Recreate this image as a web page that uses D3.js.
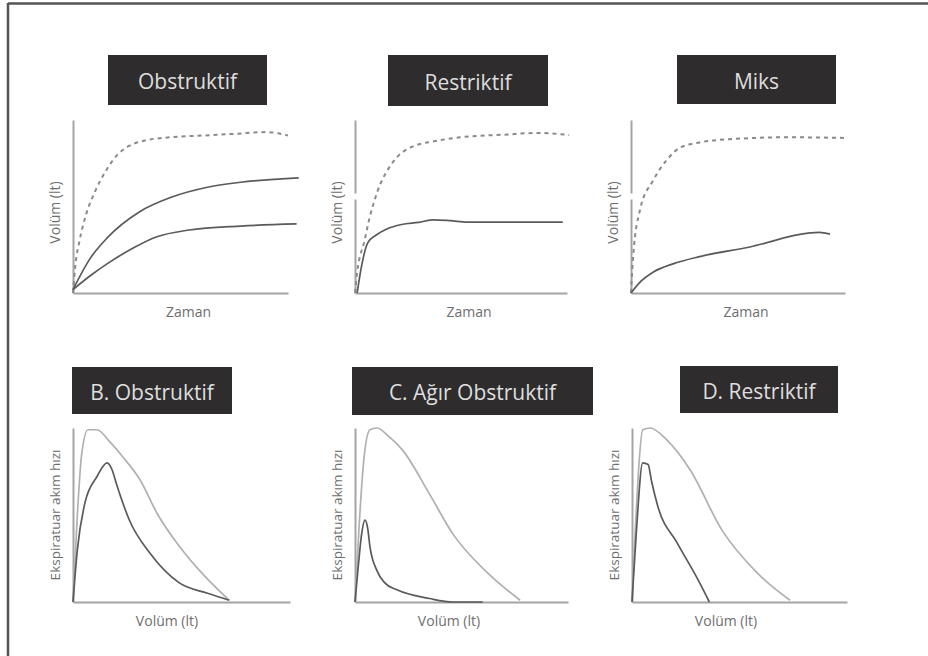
<!DOCTYPE html>
<html>
<head>
<meta charset="utf-8">
<script src="https://cdn.jsdelivr.net/npm/d3@7"></script>
<style>
  body { margin: 0; background: #fff; }
  text { font-family: "Open Sans", "Noto Sans", sans-serif; }
</style>
</head>
<body>
<svg width="928" height="656"></svg>
<script>
// ==================== DATA (abstract units, 0-100) ====================
// top row: volume-time curves, [time, volume]
var obsNormal = [[0,0],[1,15],[3,30],[6,45],[10,58],[15,70],[20,79],[26,85],[33,88],[45,90],[60,91],[75,92],[90,93],[100,91]];
var obsModerate = [[0,2],[8,20],[16,32],[31,47],[46,55.5],[62,61],[78,64],[105,66.5]];
var obsSevere = [[0,2],[8,10],[16,17],[28,26],[39,32.5],[54,36.4],[78,38.7],[104,39.9]];

var resNormal = [[0,0],[1,12],[2.5,22],[3.8,27],[7,44],[10.4,58],[17.5,75],[26,84],[38.7,88],[49.5,90],[70,91.5],[86,92.5],[101,91.3]];
var resPatient = [[1,0],[3,15],[6,29],[10,33.5],[15,37],[22,39.6],[30,40.8],[37,42.3],[45,41.8],[53,41],[75,41],[98,41]];

var mixNormal = [[0,0],[1,21],[4.2,48],[10.3,65],[16.8,77],[22.9,84],[32,87],[47.7,89],[73,90],[101,89.6]];
var mixPatient = [[0,0],[4,6],[10.3,12],[20,17],[32,21],[55.6,26.6],[83.6,34.7],[88,35],[93,34]];

// bottom row: flow-volume curves, [volume, flow]
var bNormal = [[0,0],[2,50],[4,85],[6.9,99],[11,99],[17,92],[23,83.3],[31,70],[38.7,51],[49,32],[61,14.4],[72,1]];
var bPatient = [[0,0],[2,30],[5.5,57],[11,72],[15.7,80],[18,76],[20,68],[26,47],[35.5,28],[49,11],[62,5],[72,1]];

var cNormal = [[0,0],[2,45],[4,80],[7,99],[10.3,100],[16,95],[22.5,87],[35,62],[46,39],[62,17],[77.5,1]];
var cPatient = [[0,0],[1.5,20],[3,38],[4.7,47],[6,42],[7,32],[10.3,18],[14,11],[19.7,7],[35,2],[46,0],[60,0]];

var dNormal = [[0,0],[1.5,40],[3,75],[5,99],[8.4,100],[16.3,93],[27,76],[42,41],[58,17],[73.5,1]];
var dPatient = [[0,0],[2,40],[5,80],[7.5,79],[9,70],[12,55],[21,34],[30,14.4],[36,0]];

var topTitles = ["Obstruktif", "Restriktif", "Miks"];
var bottomTitles = ["B. Obstruktif", "C. Ağır Obstruktif", "D. Restriktif"];
var topXLabel = "Zaman", topYLabel = "Volüm  (lt)";
var bottomXLabel = "Volüm  (lt)", bottomYLabel = "Ekspiratuar akım hızı";

// ==================== LAYOUT ====================
var svg = d3.select("svg");

// frame (top and left edges only)
svg.append("line").attr("x1", 8).attr("x2", 928).attr("y1", 3.5).attr("y2", 3.5)
    .attr("stroke", "#555").attr("stroke-width", 2.5);
svg.append("line").attr("x1", 8).attr("x2", 8).attr("y1", 3).attr("y2", 656)
    .attr("stroke", "#555").attr("stroke-width", 2.5);

var panels = [
    { title: topTitles[0], box: [108, 55, 159, 50], x: [73, 288], y: [293, 120], top: true, gap: false,
      series: [{ d: obsNormal, dash: true }, { d: obsModerate }, { d: obsSevere }] },
    { title: topTitles[1], box: [388, 55, 160, 51], x: [355, 567], y: [293, 120], top: true, gap: true,
      series: [{ d: resNormal, dash: true }, { d: resPatient }] },
    { title: topTitles[2], box: [677, 55, 159, 49], x: [631, 845], y: [293, 120], top: true, gap: true,
      series: [{ d: mixNormal, dash: true }, { d: mixPatient }] },
    { title: bottomTitles[0], box: [72, 367, 160, 47], x: [73, 290], y: [602, 428], top: false,
      series: [{ d: bNormal, light: true }, { d: bPatient }] },
    { title: bottomTitles[1], box: [352, 367, 241, 48], x: [355, 568], y: [602, 428], top: false,
      series: [{ d: cNormal, light: true }, { d: cPatient }] },
    { title: bottomTitles[2], box: [680, 366, 158, 47], x: [632, 847], y: [602, 428], top: false,
      series: [{ d: dNormal, light: true }, { d: dPatient }] }
];

panels.forEach(function(p) {
    var g = svg.append("g");

    // title box
    g.append("rect")
        .attr("x", p.box[0]).attr("y", p.box[1])
        .attr("width", p.box[2]).attr("height", p.box[3])
        .attr("fill", "#2e2c2d");
    g.append("text")
        .attr("x", p.box[0] + p.box[2] / 2)
        .attr("y", p.box[1] + p.box[3] / 2 + 2)
        .attr("dy", "0.35em")
        .attr("text-anchor", "middle")
        .attr("font-size", 21)
        .attr("fill", "#dedede")
        .text(p.title);

    var x = d3.scaleLinear().domain([0, 100]).range(p.x);
    var y = d3.scaleLinear().domain([0, 100]).range(p.y);

    // axes: plain lines, no ticks
    var yAxis = g.append("g")
        .attr("transform", "translate(" + p.x[0] + ",0)")
        .call(d3.axisLeft(y).ticks(0).tickSizeOuter(0));
    g.append("g")
        .attr("transform", "translate(0," + p.y[0] + ")")
        .call(d3.axisBottom(x).ticks(0).tickSizeOuter(0));
    g.selectAll(".domain").attr("stroke", "#a4a4a4").attr("stroke-width", 2);
    if (p.gap) yAxis.select(".domain").attr("stroke-dasharray", "94,6,400");

    var line = d3.line()
        .x(function(d) { return x(d[0]); })
        .y(function(d) { return y(d[1]); })
        .curve(d3.curveMonotoneX);

    p.series.forEach(function(s) {
        g.append("path")
            .datum(s.d)
            .attr("fill", "none")
            .attr("stroke", s.dash ? "#8a8a8a" : (s.light ? "#b0b0b0" : "#5a5a5a"))
            .attr("stroke-width", s.dash ? 2 : 1.7)
            .attr("stroke-dasharray", s.dash ? "4,4" : null)
            .attr("stroke-linejoin", "round")
            .attr("d", line);
    });

    // axis labels
    g.append("text")
        .attr("x", p.top ? (p.x[0] + p.x[1]) / 2 + 8 : p.x[0] + 94)
        .attr("y", p.y[0] + 19)
        .attr("dy", "0.35em")
        .attr("text-anchor", "middle")
        .attr("font-size", 14)
        .attr("fill", "#6e6e6e")
        .text(p.top ? topXLabel : bottomXLabel);

    var cy = (p.y[0] + p.y[1]) / 2;
    g.append("text")
        .attr("transform", "translate(" + (p.x[0] - 18) + "," + (cy + (p.top ? 6 : 0)) + ") rotate(-90)")
        .attr("dy", "0.35em")
        .attr("text-anchor", "middle")
        .attr("font-size", p.top ? 14 : 13.5)
        .attr("fill", "#6e6e6e")
        .text(p.top ? topYLabel : bottomYLabel);
});
</script>
</body>
</html>
